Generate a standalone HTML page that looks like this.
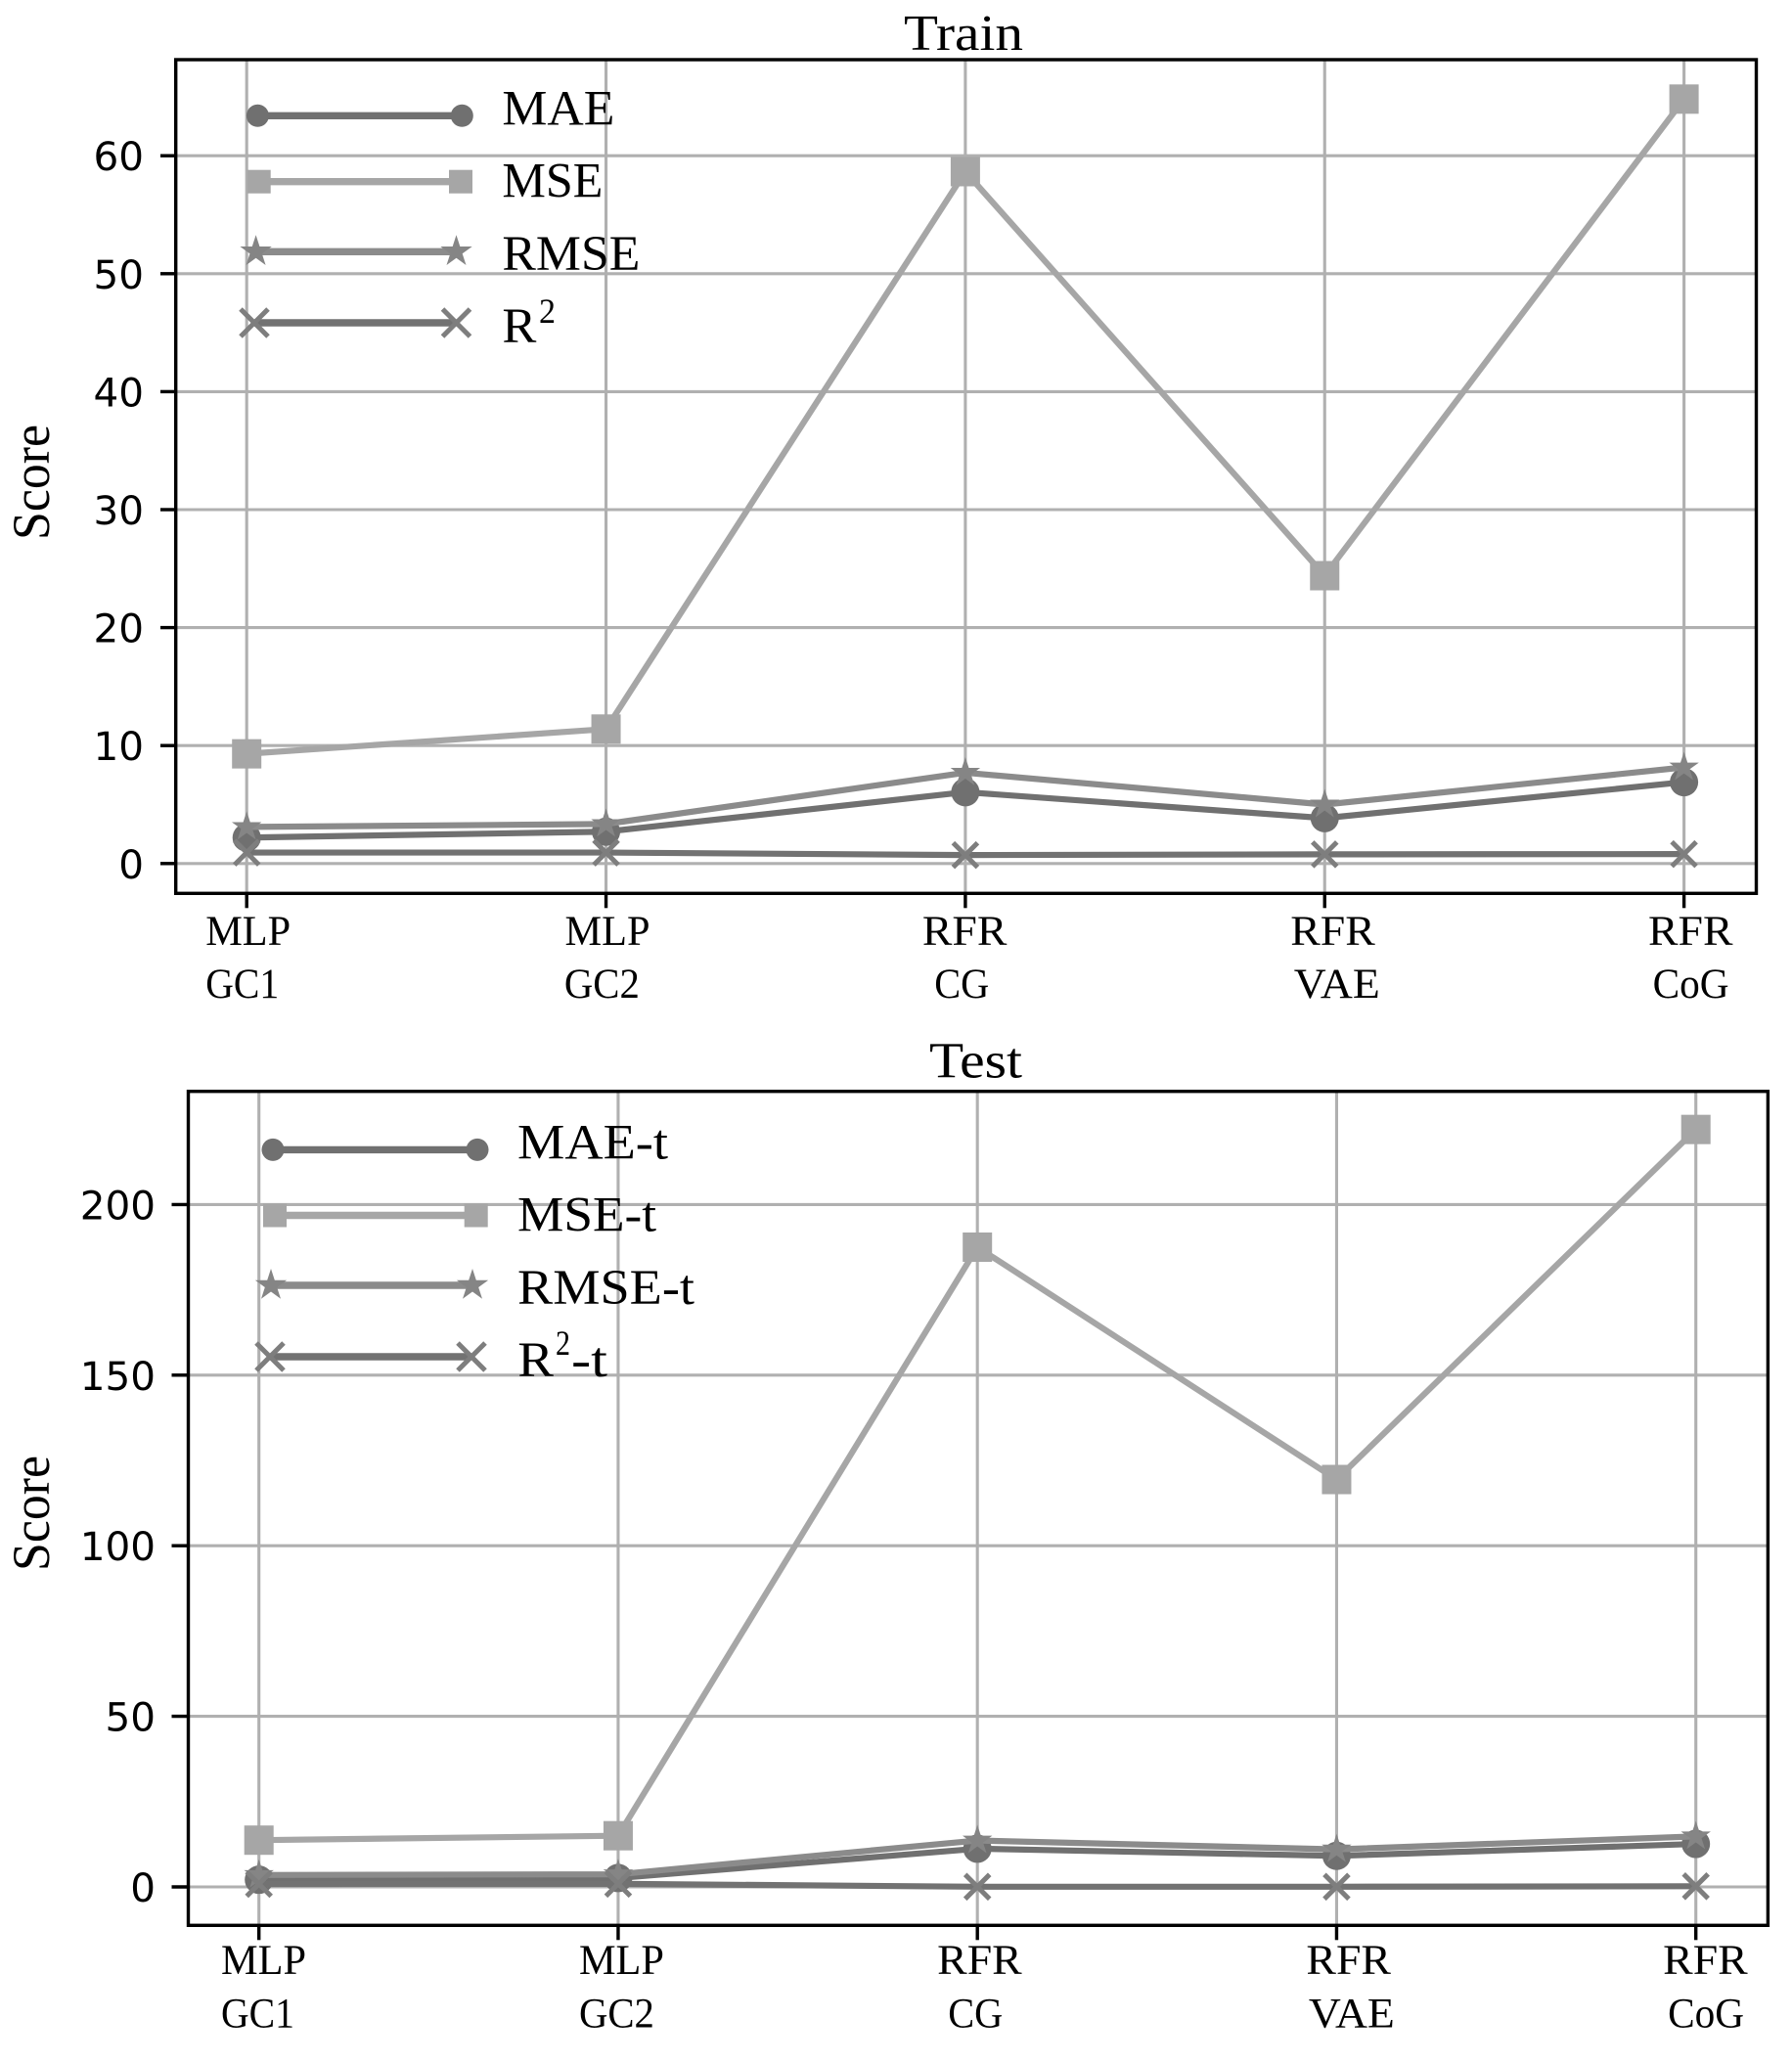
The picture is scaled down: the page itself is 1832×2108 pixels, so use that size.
<!DOCTYPE html>
<html lang="en">
<head>
<meta charset="utf-8">
<title>Train and Test Scores</title>
<style>
html,body{margin:0;padding:0;background:#fff;width:1832px;height:2108px;overflow:hidden}
svg{display:block}
.serif{font-family:"Liberation Serif",serif;fill:#000}
.sans{font-family:"DejaVu Sans",sans-serif;fill:#000}
</style>
</head>
<body>
<svg id="chart" xmlns="http://www.w3.org/2000/svg" width="1832" height="2108" viewBox="0 0 1832 2108"></svg>
<script>
const categoriesTop = ["MLP", "MLP", "RFR", "RFR", "RFR"];
const categoriesBottom = ["GC1", "GC2", "CG", "VAE", "CoG"];

const trainTicks = [0, 10, 20, 30, 40, 50, 60];
const trainMAE = [2.2, 2.7, 6.05, 3.85, 6.9];
const trainMSE = [9.3, 11.4, 58.65, 24.4, 64.8];
const trainRMSE = [3.1, 3.35, 7.7, 5.0, 8.15];
const trainR2 = [0.93, 0.93, 0.72, 0.78, 0.8];

const testTicks = [0, 50, 100, 150, 200];
const testMAE = [2.1, 2.6, 11.2, 9.1, 12.6];
const testMSE = [13.7, 15.0, 187.5, 119.4, 222];
const testRMSE = [3.5, 3.7, 13.6, 11.0, 14.8];
const testR2 = [0.86, 0.9, 0.05, 0.05, 0.2];

const NS = "http://www.w3.org/2000/svg";
const root = document.getElementById("chart");

function make(parent, tag, attrs, text) {
  const n = document.createElementNS(NS, tag);
  for (const k in attrs) n.setAttribute(k, attrs[k]);
  if (text !== undefined) n.textContent = text;
  parent.appendChild(n);
  return n;
}

function starPoints(cx, cy, r) {
  const pts = [];
  for (let i = 0; i < 10; i++) {
    const rad = i % 2 === 0 ? r : r * 0.382;
    const a = -Math.PI / 2 + i * Math.PI / 5;
    pts.push((cx + rad * Math.cos(a)).toFixed(2) + "," + (cy + rad * Math.sin(a)).toFixed(2));
  }
  return pts.join(" ");
}

const styles = {
  mae: { line: "#707070", marker: "#707070" },
  mse: { line: "#a6a6a6", marker: "#a6a6a6" },
  rmse: { line: "#8b8b8b", marker: "#858585" },
  r2: { line: "#727272", marker: "#7e7e7e" }
};

function drawMarker(parent, kind, cx, cy, size, name) {
  const color = styles[kind].marker;
  let m;
  if (kind === "mae") {
    m = make(parent, "circle", { cx: cx, cy: cy, r: size.circle, fill: color });
  } else if (kind === "mse") {
    m = make(parent, "rect", { x: cx - size.square, y: cy - size.square, width: size.square * 2, height: size.square * 2, fill: color });
  } else if (kind === "rmse") {
    m = make(parent, "polygon", { points: starPoints(cx, cy, size.star), fill: color });
  } else {
    const c = size.cross;
    m = make(parent, "path", { d: `M${cx - c} ${cy - c}L${cx + c} ${cy + c}M${cx - c} ${cy + c}L${cx + c} ${cy - c}`, stroke: color, "stroke-width": 5, fill: "none" });
  }
  
  
}

function drawPanel(cfg) {
  const panel = make(root, "g", {});
  
  

  const yScale = v => cfg.y0 - v * cfg.yUnit;
  const xScale = i => cfg.x0 + i * cfg.xStep;

  const title = make(panel, "text", { x: cfg.title.x, y: cfg.title.y, class: "serif", "font-size": 52, textLength: cfg.title.w, lengthAdjust: "spacingAndGlyphs" }, cfg.title.text);
  
  

  const yTitle = make(panel, "text", { transform: `translate(${cfg.score.x} ${cfg.score.y}) rotate(-90)`, class: "serif", "font-size": 54, textLength: 118, lengthAdjust: "spacingAndGlyphs" }, "Score");
  
  

  // Grid
  categoriesTop.forEach((c, i) => {
    const g = make(panel, "line", { x1: xScale(i), x2: xScale(i), y1: cfg.top, y2: cfg.bottom, stroke: "#b0b0b0", "stroke-width": 3.1 });
    
    
  });
  cfg.ticks.forEach(t => {
    const g = make(panel, "line", { x1: cfg.left, x2: cfg.right, y1: yScale(t), y2: yScale(t), stroke: "#b0b0b0", "stroke-width": 3.1 });
    
    
  });

  // Series
  cfg.series.forEach(s => {
    const pts = s.values.map((v, i) => xScale(i).toFixed(2) + "," + yScale(v).toFixed(2)).join(" ");
    const group = make(panel, "g", {});
    
    
    const line = make(group, "polyline", { points: pts, fill: "none", stroke: styles[s.kind].line, "stroke-width": 6.2, "stroke-linejoin": "round" });
    
    
    s.values.forEach((v, i) => {
      drawMarker(group, s.kind, xScale(i), yScale(v), { circle: 14.5, square: 15, star: 16, cross: 12.5 }, s.kind + "-point");
    });
  });

  // Frame
  const frame = make(panel, "rect", { x: cfg.left, y: cfg.top, width: cfg.right - cfg.left, height: cfg.bottom - cfg.top, fill: "none", stroke: "#000", "stroke-width": 3.4 });
  
  

  // Y ticks
  cfg.ticks.forEach(t => {
    const tick = make(panel, "line", { x1: cfg.yTickX, x2: cfg.left, y1: yScale(t), y2: yScale(t), stroke: "#000", "stroke-width": 3.4 });
    
    
    const label = make(panel, "text", { x: cfg.yLabelX, y: yScale(t) + 15, "text-anchor": "end", class: "sans", "font-size": 40.5 }, String(t));
    
    
  });

  // X ticks
  const topWidths = { MLP: 87, RFR: 86.5 };
  const bottomWidths = { GC1: 75, GC2: 77, CG: 56, VAE: 88, CoG: 78 };
  categoriesTop.forEach((c, i) => {
    const tick = make(panel, "line", { x1: xScale(i), x2: xScale(i), y1: cfg.bottom, y2: cfg.bottom + 15, stroke: "#000", "stroke-width": 3.4 });
    
    
    const l1 = make(panel, "text", { x: xScale(i) + cfg.labelOffsetTop[i], y: cfg.labelY1, class: "serif", "font-size": 43, textLength: topWidths[c], lengthAdjust: "spacingAndGlyphs" }, c);
    
    
    const b = categoriesBottom[i];
    const l2 = make(panel, "text", { x: xScale(i) + cfg.labelOffsetBottom[i], y: cfg.labelY2, class: "serif", "font-size": 43, textLength: bottomWidths[b], lengthAdjust: "spacingAndGlyphs" }, b);
    
    
  });

  // Legend
  const legend = make(panel, "g", {});
  
  
  cfg.legend.forEach(e => {
    const entry = make(legend, "g", {});
    
    
    const ln = make(entry, "line", { x1: e.x1, x2: e.x2, y1: e.y, y2: e.y, stroke: styles[e.kind].line, "stroke-width": 7.4 });
    
    
    const sz = { circle: 11.5, square: 12, star: 17, cross: 14 };
    drawMarker(entry, e.kind, e.x1, e.y, sz, "legend-marker");
    drawMarker(entry, e.kind, e.x2, e.y, sz, "legend-marker");
    e.labels.forEach(p => {
      const t = make(entry, "text", { x: p.x, y: p.y, class: "serif", "font-size": p.size || 51, textLength: p.w, lengthAdjust: "spacingAndGlyphs" }, p.text);
      
      
    });
  });
}

drawPanel({
  id: "train", left: 179.7, right: 1795.5, top: 61, bottom: 913.3,
  x0: 252.2, xStep: 367.35, y0: 882.8, yUnit: 12.06,
  ticks: trainTicks, yTickX: 164, yLabelX: 147,
  labelY1: 966, labelY2: 1020,
  labelOffsetTop: [-42, -42, -44, -35, -36.6],
  labelOffsetBottom: [-42, -42.7, -31.7, -31.5, -32],
  title: { text: "Train", x: 924, y: 51, w: 122 },
  score: { x: 50, y: 552 },
  series: [
    { kind: "mae", values: trainMAE },
    { kind: "mse", values: trainMSE },
    { kind: "rmse", values: trainRMSE },
    { kind: "r2", values: trainR2 }
  ],
  legend: [
    { kind: "mae", x1: 263.4, x2: 472.3, y: 118.3, labels: [{ text: "MAE", x: 513.4, y: 127.7, w: 115 }] },
    { kind: "mse", x1: 264.7, x2: 471, y: 185.7, labels: [{ text: "MSE", x: 513.4, y: 201.7, w: 103 }] },
    { kind: "rmse", x1: 261.6, x2: 466.5, y: 257.3, labels: [{ text: "RMSE", x: 513.4, y: 276, w: 141 }] },
    { kind: "r2", x1: 260, x2: 466.5, y: 330, labels: [
      { text: "R", x: 513.4, y: 350, w: 35 },
      { text: "2", x: 551, y: 330, w: 17, size: 36 }
    ] }
  ]
});

drawPanel({
  id: "test", left: 192.5, right: 1807.4, top: 1115.7, bottom: 1968.3,
  x0: 264.7, xStep: 367.25, y0: 1929, yUnit: 3.488,
  ticks: testTicks, yTickX: 175.5, yLabelX: 159,
  labelY1: 2018, labelY2: 2072.7,
  labelOffsetTop: [-38.7, -40, -41, -31, -33.5],
  labelOffsetBottom: [-38.7, -40, -30, -28.6, -28.6],
  title: { text: "Test", x: 950, y: 1101.7, w: 95 },
  score: { x: 50, y: 1606 },
  series: [
    { kind: "mae", values: testMAE },
    { kind: "mse", values: testMSE },
    { kind: "rmse", values: testRMSE },
    { kind: "r2", values: testR2 }
  ],
  legend: [
    { kind: "mae", x1: 279, x2: 488, y: 1175.4, labels: [{ text: "MAE-t", x: 529, y: 1184.6, w: 154 }] },
    { kind: "mse", x1: 281, x2: 486.7, y: 1242.5, labels: [{ text: "MSE-t", x: 529, y: 1258.6, w: 142 }] },
    { kind: "rmse", x1: 277, x2: 483, y: 1314, labels: [{ text: "RMSE-t", x: 529, y: 1333, w: 181 }] },
    { kind: "r2", x1: 276, x2: 482, y: 1387, labels: [
      { text: "R", x: 529.3, y: 1407, w: 36.7 },
      { text: "2", x: 568, y: 1385, w: 15, size: 36 },
      { text: "-t", x: 584, y: 1407, w: 37 }
    ] }
  ]
});
</script>
</body>
</html>
